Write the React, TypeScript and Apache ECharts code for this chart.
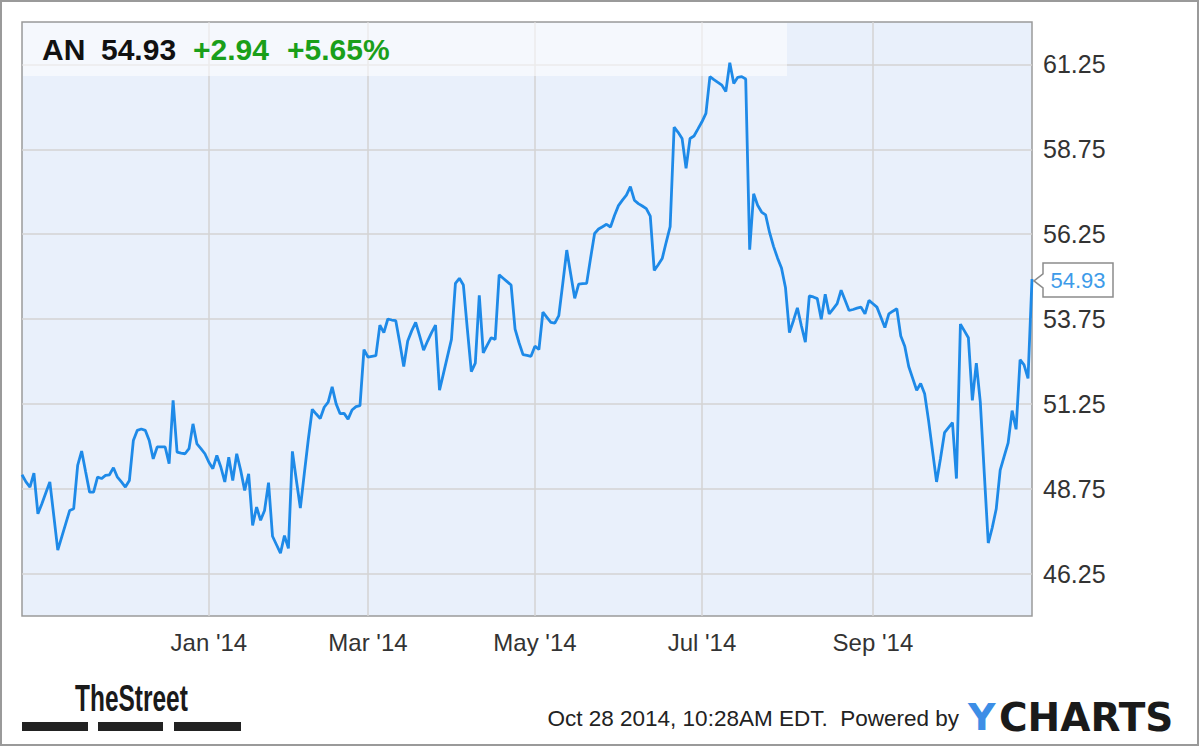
import React, { useEffect, useRef } from "react";
import * as echarts from "echarts";

// ---- data ----
const firstDay = "2013-10-24";
const lastDay = "2014-10-28";
const marketHolidays = [
  "2013-11-28", "2013-12-25", "2014-01-01", "2014-01-20", "2014-02-17",
  "2014-04-18", "2014-05-26", "2014-07-04", "2014-09-01",
];
const prices = [
  49.16, 48.95, 48.80, 49.21, 48.01, 48.31, 48.63, 48.95, 47.95, 46.94,
  47.33, 47.72, 48.11, 48.16, 49.44, 49.86, 49.25, 48.65, 48.65, 49.09,
  49.05, 49.14, 49.16, 49.37, 49.09, 48.95, 48.80, 48.99, 50.17, 50.47,
  50.51, 50.47, 50.17, 49.63, 49.98, 49.98, 49.98, 49.49, 51.35, 49.83,
  49.80, 49.78, 49.93, 50.66, 50.07, 49.93, 49.78, 49.53, 49.34, 49.73,
  49.39, 48.95, 49.68, 48.99, 49.78, 49.29, 48.70, 49.19, 47.67, 48.21,
  47.82, 48.11, 48.93, 47.35, 47.10, 46.85, 47.37, 46.99, 49.85, 49.00,
  48.18, 49.20, 50.20, 51.09, 50.95, 50.82, 51.15, 51.30, 51.75, 51.25,
  50.96, 50.97, 50.80, 51.07, 51.17, 51.20, 52.85, 52.63, 52.65, 52.67,
  53.57, 53.35, 53.75, 53.72, 53.70, 53.05, 52.35, 53.10, 53.40, 53.65,
  53.25, 52.83, 53.10, 53.35, 53.57, 51.65, 52.15, 52.65, 53.15, 54.80,
  54.95, 54.75, 53.45, 52.20, 52.45, 54.45, 52.75, 52.98, 53.20, 53.15,
  55.05, 54.95, 54.85, 54.75, 53.45, 53.05, 52.70, 52.68, 52.65, 52.95,
  52.85, 53.95, 53.80, 53.65, 53.63, 53.85, 54.80, 55.78, 55.07, 54.36,
  54.78, 54.79, 54.80, 55.55, 56.27, 56.40, 56.47, 56.54, 56.46, 56.80,
  57.09, 57.25, 57.40, 57.65, 57.25, 57.15, 57.08, 57.00, 56.78, 55.18,
  55.35, 55.53, 56.01, 56.47, 59.40, 59.25, 59.07, 58.19, 59.07, 59.14,
  59.35, 59.56, 59.81, 60.89, 60.80, 60.72, 60.64, 60.45, 61.30, 60.69,
  60.87, 60.89, 60.82, 55.79, 57.44, 57.10, 56.90, 56.82, 56.30, 55.89,
  55.55, 55.25, 54.68, 53.35, 53.70, 54.08, 53.55, 53.07, 54.43, 54.40,
  54.35, 53.74, 54.48, 53.90, 54.05, 54.20, 54.60, 54.30, 54.00, 54.03,
  54.07, 54.10, 53.90, 54.30, 54.20, 54.10, 53.80, 53.50, 53.90, 53.98,
  54.05, 53.25, 52.95, 52.35, 52.00, 51.65, 51.85, 51.55, 50.75, 49.85,
  48.95, 49.65, 50.40, 50.55, 50.70, 49.05, 53.60, 53.40, 53.20, 51.35,
  52.45, 51.30, 49.20, 47.15, 47.60, 48.15, 49.30, 49.70, 50.10, 51.05,
  50.50, 52.55, 52.40, 52.00, 54.93,
];
const yTickLabels = [46.25, 48.75, 51.25, 53.75, 56.25, 58.75, 61.25];
const labelMonths = [0, 2, 4, 6, 8];
const monthNames = ["Jan", "Feb", "Mar", "Apr", "May", "Jun", "Jul", "Aug", "Sep", "Oct", "Nov", "Dec"];
const ticker = "AN";
const lastPrice = "54.93";
const change = "+2.94";
const changePct = "+5.65%";
const footerText = "Oct 28 2014, 10:28AM EDT.  Powered by";

// trading-day categories (weekdays minus market holidays)
function buildTradingDays(start: string, end: string, holidays: string[]): string[] {
  const out: string[] = [];
  const d = new Date(start + "T00:00:00Z");
  const e = new Date(end + "T00:00:00Z");
  while (d.getTime() <= e.getTime()) {
    const iso = d.toISOString().slice(0, 10);
    const wd = d.getUTCDay();
    if (wd !== 0 && wd !== 6 && holidays.indexOf(iso) < 0) out.push(iso);
    d.setUTCDate(d.getUTCDate() + 1);
  }
  return out;
}
const tradingDays = buildTradingDays(firstDay, lastDay, marketHolidays);

export default function App() {
  const ref = useRef<HTMLDivElement>(null);
  useEffect(() => {
    document.body.style.margin = "0";
    if (!ref.current) return;
    const chart = echarts.init(ref.current, undefined, { renderer: "svg" });

    const isMonthStart = (idx: number) => {
      const cur = tradingDays[idx];
      if (!cur) return false;
      const prev = tradingDays[idx - 1];
      const m = parseInt(cur.slice(5, 7), 10) - 1;
      const y = cur.slice(0, 4);
      if (y !== "2014" || labelMonths.indexOf(m) < 0) return false;
      return !prev || prev.slice(5, 7) !== cur.slice(5, 7);
    };

    const n = Math.min(prices.length, tradingDays.length);
    const cats = tradingDays.slice(0, n);
    const vals = prices.slice(0, n);

    chart.setOption({
      animation: false,
      backgroundColor: "#ffffff",
      grid: {
        left: 22, top: 22, right: 168, bottom: 131,
        show: true,
        backgroundColor: "#e9f0fb",
        borderColor: "#9a9a9a",
        borderWidth: 1.5,
        containLabel: false,
        outerBoundsMode: "none",
      },
      xAxis: {
        type: "category",
        data: cats,
        boundaryGap: false,
        axisLine: { show: false },
        axisTick: { show: false },
        axisLabel: {
          interval: (i: number) => isMonthStart(i),
          formatter: (v: string) => {
            const m = parseInt(v.slice(5, 7), 10) - 1;
            return monthNames[m] + " '" + v.slice(2, 4);
          },
          color: "#333",
          fontFamily: "Liberation Sans, Arial, sans-serif",
          fontSize: 24,
          margin: 14,
        },
        splitLine: {
          show: true,
          interval: (i: number) => isMonthStart(i),
          lineStyle: { color: "#d3d3d3", width: 1.5 },
        },
      },
      yAxis: {
        type: "value",
        position: "right",
        min: 45,
        max: 62.5,
        interval: 1.25,
        axisLine: { show: false },
        axisTick: { show: false },
        axisLabel: {
          formatter: (v: number) => {
            const hit = yTickLabels.some((t) => Math.abs(t - v) < 1e-6);
            return hit ? v.toFixed(2) : "";
          },
          color: "#333",
          fontFamily: "Liberation Sans, Arial, sans-serif",
          fontSize: 25,
          margin: 11,
        },
        splitLine: {
          show: true,
          lineStyle: { color: ["rgba(0,0,0,0)", "#d3d3d3"], width: 1.5 },
        },
      },
      series: [
        {
          type: "line",
          data: vals,
          symbol: "none",
          lineStyle: { color: "#1e8ae8", width: 2.8 },
          z: 3,
        },
      ],
    });

    const p = chart.convertToPixel({ xAxisIndex: 0, yAxisIndex: 0 }, [n - 1, vals[n - 1]]) as number[];
    const tipX = p[0] + 2;
    const tipY = p[1] + 2;
    const bl = tipX + 9;
    const br = bl + 70;
    const bt = tipY - 18;
    const bb = tipY + 16;

    const font = "Liberation Sans, Arial, sans-serif";
    chart.setOption({
      graphic: [
        {
          type: "rect", z: 1, silent: true,
          shape: { x: 23, y: 23, width: 764, height: 53 },
          style: { fill: "rgba(255,255,255,0.55)" },
        },
        { type: "text", z: 10, x: 42, y: 49, style: { text: ticker, font: `bold 30px ${font}`, fill: "#111", textVerticalAlign: "middle" } },
        { type: "text", z: 10, x: 101, y: 49, style: { text: lastPrice, font: `bold 30px ${font}`, fill: "#111", textVerticalAlign: "middle" } },
        { type: "text", z: 10, x: 193, y: 49, style: { text: change, font: `bold 30px ${font}`, fill: "#1a9f1a", textVerticalAlign: "middle" } },
        { type: "text", z: 10, x: 287, y: 49, style: { text: changePct, font: `bold 30px ${font}`, fill: "#1a9f1a", textVerticalAlign: "middle" } },
        {
          type: "polygon", z: 10,
          shape: {
            points: [
              [tipX, tipY], [bl, tipY - 7], [bl, bt], [br, bt], [br, bb], [bl, bb], [bl, tipY + 7],
            ],
          },
          style: { fill: "#ffffff", stroke: "#8c8c8c", lineWidth: 1.5 },
        },
        {
          type: "text", z: 11, x: (bl + br) / 2, y: tipY,
          style: { text: lastPrice, font: `22px ${font}`, fill: "#3d9be9", textAlign: "center", textVerticalAlign: "middle" },
        },
        {
          type: "text", z: 10, x: 75, y: 699, scaleX: 0.68,
          style: { text: "TheStreet", font: `bold 36px ${font}`, fill: "#1a1a1a", textVerticalAlign: "middle" },
        },
        { type: "rect", z: 10, shape: { x: 22, y: 722, width: 66, height: 9 }, style: { fill: "#222" } },
        { type: "rect", z: 10, shape: { x: 98, y: 722, width: 65, height: 9 }, style: { fill: "#222" } },
        { type: "rect", z: 10, shape: { x: 174, y: 722, width: 67, height: 9 }, style: { fill: "#222" } },
        {
          type: "text", z: 10, x: 959, y: 718,
          style: { text: footerText, font: `22.5px ${font}`, fill: "#222", textAlign: "right", textVerticalAlign: "middle" },
        },
        {
          type: "text", z: 10, x: 968, y: 717,
          style: { text: "Y", font: "bold 38px DejaVu Sans, sans-serif", fill: "#3d8ee6", textVerticalAlign: "middle" },
        },
        {
          type: "text", z: 10, x: 999, y: 717,
          style: { text: "CHARTS", font: "bold 39px DejaVu Sans, sans-serif", fill: "#1a1a1a", textVerticalAlign: "middle" },
        },
        {
          type: "rect", z: 20, silent: true,
          shape: { x: 1, y: 1, width: 1197, height: 744 },
          style: { fill: "none", stroke: "#9a9a9a", lineWidth: 2 },
        },
      ],
    });

    return () => chart.dispose();
  }, []);
  return <div ref={ref} style={{ width: 1200, height: 747 }} />;
}
